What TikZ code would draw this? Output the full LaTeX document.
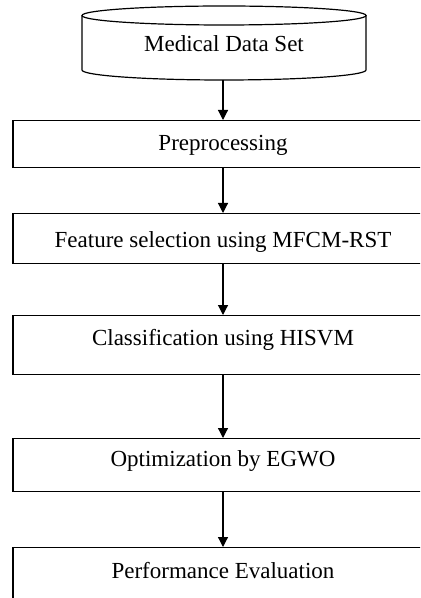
\documentclass[tikz,border=0pt]{standalone}
\usepackage{fontspec}
\setmainfont{Liberation Serif}
\usetikzlibrary{arrows.meta}

\tikzset{
  stage/.style={draw, line width=0.6pt, anchor=north, inner sep=0pt,
                minimum width=210pt, font=\fontsize{11.5}{13}\selectfont},
  flow/.style={-{Triangle[length=5pt,width=5pt]}, line width=0.6pt}
}

\begin{document}
\begin{tikzpicture}[x=0.5pt,y=-0.5pt]
  \clip (0,0) rectangle (420,598);
  % Data store (cylinder)
  \draw[line width=0.6pt] (224,15.5) ellipse [x radius=142, y radius=9.5];
  \draw[line width=0.6pt] (82,15.5) -- (82,70)
    arc[start angle=180, end angle=0, x radius=142, y radius=10] -- (366,15.5);
  \node[font=\fontsize{11.5}{13}\selectfont] (data) at (224,44) {Medical Data Set};
  \coordinate (database) at (223,80);
  % Processing stages, top to bottom
  \node[stage, text height=14.8pt, text depth=8.7pt]  (pre)  at (223,120) {Preprocessing};
  \node[stage, text height=16.8pt, text depth=8.2pt]  (feat) at (223,213) {Feature selection using MFCM-RST};
  \node[stage, text height=14.8pt, text depth=14.7pt] (cls)  at (223,315) {Classification using HISVM};
  \node[stage, text height=13.8pt, text depth=12.7pt] (opt)  at (223,438) {Optimization by EGWO};
  \node[stage, text height=15.3pt, text depth=16.2pt] (perf) at (223,547) {Performance Evaluation};
  % Arrows between stages
  \draw[flow] (database) -- (pre.north);
  \draw[flow] (pre.south) -- (feat.north);
  \draw[flow] (feat.south) -- (cls.north);
  \draw[flow] (cls.south) -- (opt.north);
  \draw[flow] (opt.south) -- (perf.north);
\end{tikzpicture}
\end{document}
